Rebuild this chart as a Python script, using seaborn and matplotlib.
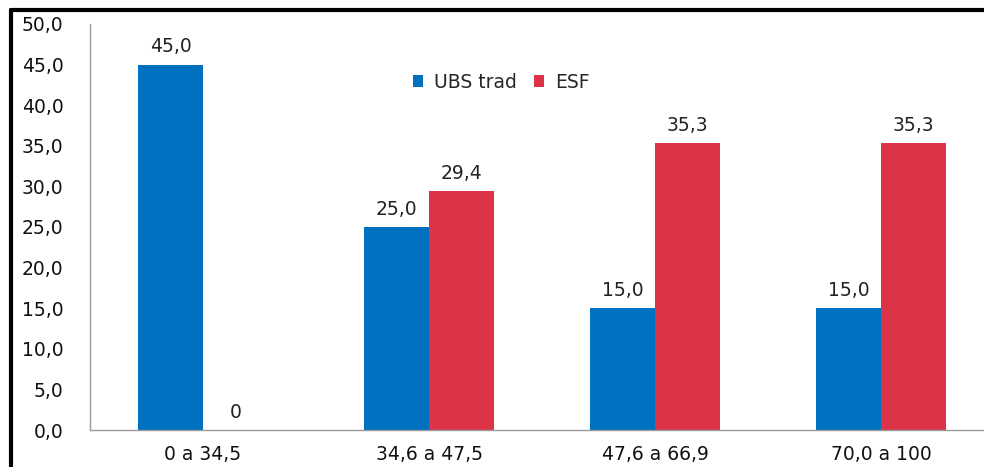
import matplotlib
matplotlib.use("Agg")
import matplotlib.pyplot as plt
import seaborn as sns
import pandas as pd
from matplotlib.lines import Line2D

categories = ["0 a 34,5", "34,6 a 47,5", "47,6 a 66,9", "70,0 a 100"]
series_names = ["UBS trad", "ESF"]
ubs_values = [45.0, 25.0, 15.0, 15.0]
esf_values = [0.0, 29.4, 35.3, 35.3]
ubs_labels = ["45,0", "25,0", "15,0", "15,0"]
esf_labels = ["0", "29,4", "35,3", "35,3"]
yticks = [0, 5, 10, 15, 20, 25, 30, 35, 40, 45, 50]
ytick_labels = ["0,0", "5,0", "10,0", "15,0", "20,0", "25,0", "30,0", "35,0", "40,0", "45,0", "50,0"]

df = pd.DataFrame({
    "cat": categories * 2,
    "serie": [series_names[0]] * 4 + [series_names[1]] * 4,
    "val": ubs_values + esf_values,
})

sns.set_theme(style="white")
plt.rcParams["font.family"] = ["DejaVu Sans"]

fs = 13.5
fig = plt.figure(figsize=(9.84, 4.67), dpi=100)
ax = fig.add_axes([90 / 984, 1 - 430 / 467, 904 / 984, 406 / 467])

sns.barplot(data=df, x="cat", y="val", hue="serie", order=categories,
            hue_order=series_names, palette=["#0070C0", "#DC3446"],
            width=0.575, saturation=1, linewidth=0, ax=ax, legend=True)

for cont, labs in zip(ax.containers, [ubs_labels, esf_labels]):
    ax.bar_label(cont, labels=labs, padding=6, fontsize=fs, color="#222222")

ax.set_ylim(0, 50)
ax.set_xlim(-0.5, 3.5)
ax.set_yticks(yticks)
ax.set_yticklabels(ytick_labels, fontsize=fs, color="#111111")
ax.tick_params(axis="y", length=0, pad=19)
ax.tick_params(axis="x", length=0, pad=11, labelsize=fs, labelcolor="#111111")
ax.set_xlabel("")
ax.set_ylabel("")
for s in ["top", "right"]:
    ax.spines[s].set_visible(False)
for s in ["left", "bottom"]:
    ax.spines[s].set_color("#999999")
    ax.spines[s].set_linewidth(1)

leg = ax.legend(loc="center", bbox_to_anchor=(0.455, 0.857), ncol=2, frameon=False,
                fontsize=fs, handlelength=0.55, handleheight=0.55, handletextpad=0.6,
                columnspacing=0.9)

# outer black frame (top and left)
fig.add_artist(Line2D([11 / 984, 1], [1 - 10 / 467, 1 - 10 / 467], color="black", lw=3,
                      transform=fig.transFigure))
fig.add_artist(Line2D([11 / 984, 11 / 984], [0, 1 - 10 / 467], color="black", lw=3,
                      transform=fig.transFigure))

fig.savefig("out.png", dpi=100)
